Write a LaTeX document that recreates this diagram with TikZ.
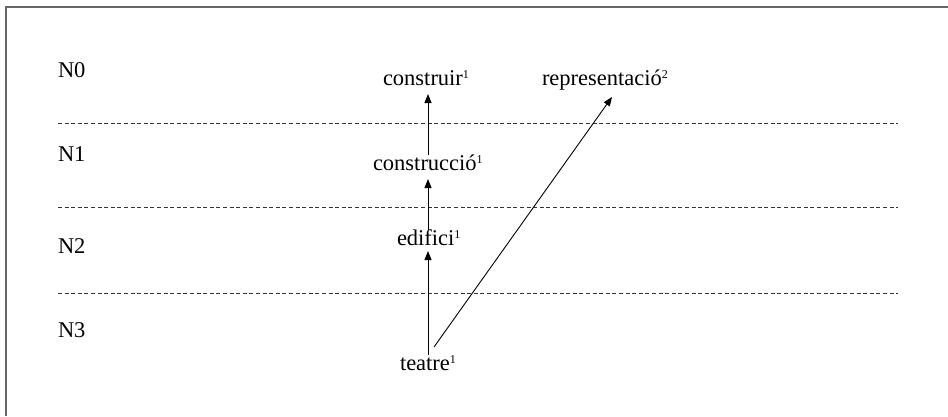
\documentclass[tikz,border=0pt]{standalone}
\usepackage{fontspec}
\setmainfont{Liberation Serif}
\usetikzlibrary{calc,arrows.meta}
\newcommand\sups[1]{\raisebox{7pt}{\fontsize{12}{12}\selectfont #1}}
\begin{document}
\begin{tikzpicture}[x=1pt,y=-1pt,
  every node/.style={inner sep=0pt,outer sep=0pt,font=\fontsize{22.5}{26}\selectfont},
  word/.style={anchor=base west,text height=20pt,text depth=9pt},
  level/.style={anchor=base west},
  frameline/.style={draw=black!60,line width=2pt},
  sep/.style={draw=black!80,line width=0.8pt,dash pattern=on 4pt off 2.6pt},
  link/.style={draw=black,line width=0.9pt,-{Triangle[length=9pt,width=7pt]}}]
\useasboundingbox (0,0) rectangle (948,416);
\draw[frameline] (6,416) -- (6,7) -- (948,7);
\coordinate (ax) at (428,0);
% separators
\draw[sep] (58,123) -- (898,123);
\draw[sep] (58,207) -- (898,207);
\draw[sep] (58,293) -- (898,293);
% level labels
\node[level] (n0) at (58,77) {N0};
\node[level] (n1) at (58,161) {N1};
\node[level] (n2) at (58,253) {N2};
\node[level] (n3) at (58,337) {N3};
% words
\node[word] (construir) at (383,85) {construir\sups{1}};
\node[word] (repr) at (542,85) {representació\sups{2}};
\node[word] (construccio) at (373,170) {construcció\sups{1}};
\node[word] (edifici) at (397,245) {edifici\sups{1}};
\node[word] (teatre) at (400,370) {teatre\sups{1}};
% connectors
\draw[link] ([yshift=-5pt]teatre.north -| ax) -- ([yshift=3pt]edifici.south -| ax);
\draw[link] ([yshift=-5pt]edifici.north -| ax) -- (construccio.south -| ax);
\draw[link] ([yshift=-5pt]construccio.north -| ax) -- (construir.south -| ax);
\draw[link] ($(teatre.north -| ax)+(6,-3)$) -- ($(repr.base west)+(70,12)$);
\end{tikzpicture}
\end{document}
